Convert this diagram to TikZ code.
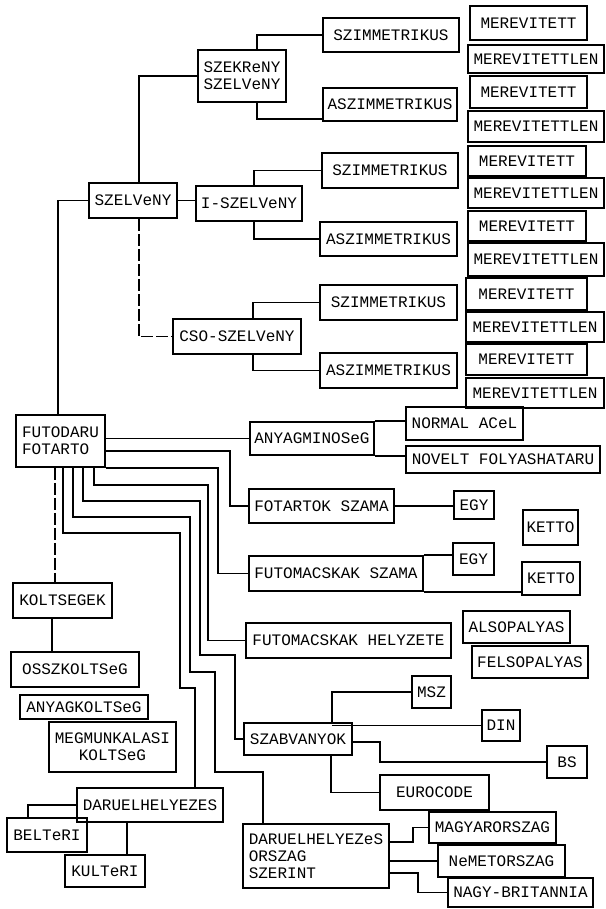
\documentclass[tikz,border=0pt]{standalone}
\usepackage{fontspec}
\newfontfamily\tw{Liberation Mono}
\usetikzlibrary{calc}
\tikzset{
  bx/.style={draw, line width=0.8pt, inner sep=0pt, font=\tw\fontsize{8}{8.5}\selectfont, align=center},
  bxl/.style={bx, align=left},
  ln/.style={line width=0.8pt},
  dln/.style={line width=0.8pt, dash pattern=on 6pt off 1.5pt}
}
% box from pixel corners (x1,y1,x2,y2)
\newcommand\pbox[7][bx]{\node[#1, minimum width={(#5-#3)*0.5pt}, minimum height={(#6-#4)*0.5pt}] (#2) at ({(#3+#5)/2},{(#4+#6)/2}) {#7};}
\begin{document}
\begin{tikzpicture}[x=0.5pt,y=-0.5pt]
\useasboundingbox (0,0) rectangle (605,909);
% top section
\pbox{sk}{198}{50}{286}{102}{SZEKReNY\\SZELVeNY}
\pbox{sz}{89}{183}{177}{218}{SZELVeNY}
\pbox{isz}{196}{186}{302}{221}{I-SZELVeNY}
\pbox{cso}{173}{319}{301}{354}{CSO-SZELVeNY}
\pbox{s1}{323}{18}{459}{52}{SZIMMETRIKUS}
\pbox{a1}{323}{88}{457}{121}{ASZIMMETRIKUS}
\pbox{s2}{322}{153}{458}{188}{SZIMMETRIKUS}
\pbox{a2}{320}{222}{457}{256}{ASZIMMETRIKUS}
\pbox{s3}{320}{285}{457}{320}{SZIMMETRIKUS}
\pbox{a3}{320}{353}{457}{388}{ASZIMMETRIKUS}
\pbox{m1}{470}{6}{587}{40}{MEREVITETT}
\pbox{l1}{468}{45}{604}{73}{MEREVITETTLEN}
\pbox{m2}{470}{76}{587}{108}{MEREVITETT}
\pbox{l2}{468}{111}{604}{142}{MEREVITETTLEN}
\pbox{m3}{468}{146}{586}{176}{MEREVITETT}
\pbox{l3}{468}{178}{604}{208}{MEREVITETTLEN}
\pbox{m4}{468}{211}{586}{241}{MEREVITETT}
\pbox{l4}{468}{243}{604}{276}{MEREVITETTLEN}
\pbox{m5}{466}{278}{587}{310}{MEREVITETT}
\pbox{l5}{466}{312}{604}{342}{MEREVITETTLEN}
\pbox{m6}{466}{344}{587}{375}{MEREVITETT}
\pbox{l6}{466}{378}{604}{408}{MEREVITETTLEN}
% middle section
\pbox[bxl]{fd}{16}{415}{105}{467}{FUTODARU\\FOTARTO}
\pbox{an}{250}{422}{374}{455}{ANYAGMINOSeG}
\pbox{na}{406}{407}{523}{440}{NORMAL ACeL}
\pbox{nv}{406}{446}{600}{473}{NOVELT FOLYASHATARU}
\pbox{ft}{249}{489}{394}{523}{FOTARTOK SZAMA}
\pbox{e1}{454}{491}{494}{519}{EGY}
\pbox{k1}{523}{510}{578}{545}{KETTO}
\pbox{fs}{249}{556}{423}{591}{FUTOMACSKAK SZAMA}
\pbox{e2}{453}{543}{494}{575}{EGY}
\pbox{k2}{522}{562}{580}{595}{KETTO}
\pbox{fh}{246}{623}{451}{658}{FUTOMACSKAK HELYZETE}
\pbox{al}{463}{611}{570}{643}{ALSOPALYAS}
\pbox{fe}{472}{646}{588}{678}{FELSOPALYAS}
\pbox{sb}{244}{723}{352}{755}{SZABVANYOK}
\pbox{ms}{412}{676}{451}{708}{MSZ}
\pbox{di}{482}{710}{520}{741}{DIN}
\pbox{bs}{547}{746}{587}{778}{BS}
\pbox{eu}{380}{775}{489}{810}{EUROCODE}
% lower left
\pbox{ko}{13}{583}{112}{618}{KOLTSEGEK}
\pbox{os}{11}{652}{139}{687}{OSSZKOLTSeG}
\pbox{ak}{20}{695}{148}{719}{ANYAGKOLTSeG}
\pbox{mg}{49}{722}{176}{772}{MEGMUNKALASI\\KOLTSeG}
\pbox{de}{77}{788}{223}{822}{DARUELHELYEZES}
\pbox{be}{7}{818}{87}{852}{BELTeRI}
\pbox{ku}{65}{855}{145}{887}{KULTeRI}
\pbox[bxl]{do}{243}{824}{389}{888}{DARUELHELYEZeS\\ORSZAG\\SZERINT}
\pbox{mo}{429}{812}{556}{843}{MAGYARORSZAG}
\pbox{ne}{438}{845}{565}{877}{NeMETORSZAG}
\pbox{nb}{448}{878}{593}{907}{NAGY-BRITANNIA}

% connectors: szelveny tree
\draw[ln] (139,0 |- sz.north) |- (sk.west);
\draw[ln] (sz.east) -- (sz.east -| isz.west);
\draw[dln] (139,0 |- sz.south) |- (cso.west);
\draw[ln] (sz.west) -| (58,0 |- fd.north);
\draw[ln] (257,0 |- sk.north) |- (s1.west);
\draw[ln] (257,0 |- sk.south) |- ([yshift=1.5pt]a1.south west);
\draw[ln] (254,0 |- isz.north) |- (s2.west);
\draw[ln] (254,0 |- isz.south) |- (a2.west);
\draw[ln] (253,0 |- cso.north) |- (s3.west);
\draw[ln] (253,0 |- cso.south) |- (a3.west);
% futodaru branches
\draw[ln] (fd.east |- an.west) -- (an.west);
\draw[ln] (fd.east |- 0,451) -| (230,0 |- ft.west) -- (ft.west);
\draw[ln] (fd.south east) -| (218,0 |- fs.west) -- (fs.west);
\draw[ln] (94,0 |- fd.south) |- (208,485) |- (fh.west);
\draw[ln] (83,0 |- fd.south) |- (200,501) |- (235,655) |- (sb.west);
\draw[ln] (73,0 |- fd.south) |- (190,517) |- (215,672) |- (263,772) -- (263,0 |- do.north);
\draw[ln] (63,0 |- fd.south) |- (180,533) |- (195,688) -- (195,0 |- de.north);
\draw[dln] (55,0 |- fd.south) -- (55,0 |- ko.north);
% second level
\draw[ln] (an.north east) -- (an.north east -| na.west);
\draw[ln] (an.south east) -- (an.south east -| nv.west);
\draw[ln] (ft.east) -- (ft.east -| e1.west);
\draw[ln] (fs.north east) -- (fs.north east -| e2.west);
\draw[ln] (fs.south east) -- (fs.south east -| k2.west);
\draw[ln] (332,0 |- sb.north) |- (ms.west);
\draw[ln] (332,0 |- di.west) -- (di.west);
\draw[ln] (sb.east |- 0,742) -| (380,0 |- bs.west) -- (bs.west);
\draw[ln] (331,0 |- sb.south) |- (eu.west);
\draw[ln] (52,0 |- ko.south) -- (52,0 |- os.north);
\draw[ln] (de.west) -| (28,0 |- be.north);
\draw[ln] (127,0 |- de.south) -- (127,0 |- ku.north);
\draw[ln] (do.east |- 0,842) -- (413,842) |- (mo.west);
\draw[ln] (do.east |- ne.west) -- (ne.west);
\draw[ln] (do.east |- 0,873) -| (418,0 |- nb.west) -- (nb.west);
\end{tikzpicture}
\end{document}
